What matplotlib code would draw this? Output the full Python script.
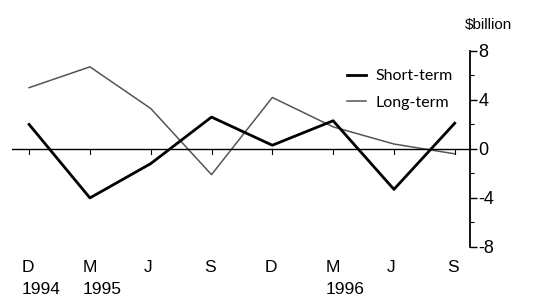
import numpy as np
import matplotlib.pyplot as plt

quarters = ["D", "M", "J", "S", "D", "M", "J", "S"]
years = {0: "1994", 1: "1995", 5: "1996"}
short_term = [2.0, -4.0, -1.2, 2.6, 0.3, 2.3, -3.3, 2.1]
long_term = [5.0, 6.7, 3.3, -2.1, 4.2, 1.8, 0.4, -0.4]
yticks = [8, 4, 0, -4, -8]

fig = plt.figure(figsize=(5.49, 3.03), dpi=100)
ax = fig.add_axes([0.022, 0.185, 0.834, 0.647])

x = np.arange(len(quarters))
ax.plot(x, long_term, color="#555555", lw=1.1, label="Long-term")
ax.plot(x, short_term, color="black", lw=2.0, label="Short-term")
ax.axhline(0, color="black", lw=1.0)

ax.set_xlim(-0.28, 7.25)
ax.set_ylim(-8, 8)

for s in ["top", "left", "bottom"]:
    ax.spines[s].set_visible(False)
ax.spines["right"].set_linewidth(1.3)
ax.yaxis.tick_right()
ax.set_yticks(yticks)
ax.set_yticklabels([str(v) for v in yticks], fontsize=13, family="Liberation Sans")
ax.set_yticks(np.arange(-8, 9, 2), minor=True)
ax.tick_params(axis="y", which="major", direction="out", length=5, width=1.0, pad=1)
ax.tick_params(axis="y", which="minor", direction="out", length=3, width=0.8)

# x ticks sit on the zero line
ax.set_xticks([])
for i in x:
    ax.plot([i, i], [0, -0.4], color="black", lw=0.8)
    ax.text(i - 0.12, -9.1, quarters[i], ha="left", va="top", fontsize=12.5,
            family="Liberation Sans")
    if i in years:
        ax.text(i - 0.12, -10.9, years[i], ha="left", va="top", fontsize=12.5,
                family="Liberation Sans")

h, l = ax.get_legend_handles_labels()
leg = ax.legend(h[::-1], l[::-1], loc="upper left", bbox_to_anchor=(0.7, 0.98),
                frameon=False, handlelength=1.2, handletextpad=0.6,
                labelspacing=0.75, prop={"family": "Lato", "size": 11.5})

fig.text(0.847, 0.895, "$billion", fontsize=11, family="Liberation Sans",
         ha="left", va="bottom")

fig.savefig("out.png", dpi=100)
